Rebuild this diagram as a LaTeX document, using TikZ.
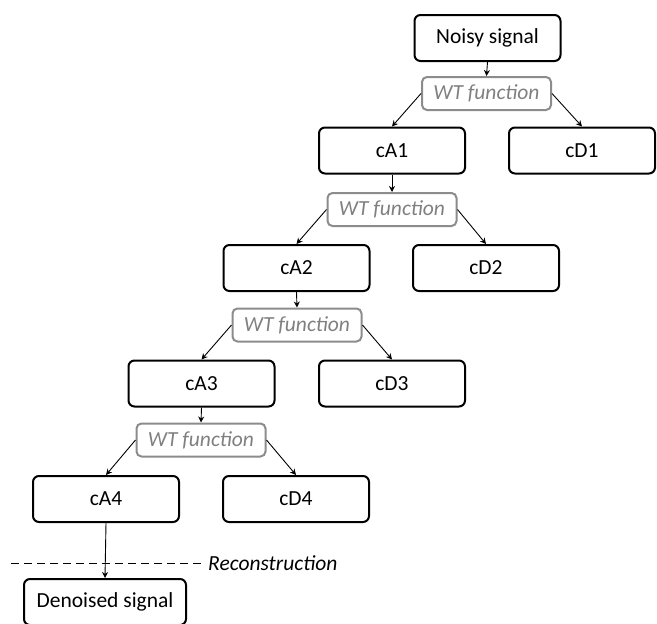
\documentclass[tikz,border=0pt]{standalone}
\usepackage{fontspec}
\setmainfont{Carlito}
\usetikzlibrary{arrows.meta}
\definecolor{wtgray}{RGB}{140,140,140}
\definecolor{wttext}{RGB}{128,128,128}
\tikzset{
  box/.style={draw=black, line width=2pt, rounded corners=6pt, minimum width=146pt, minimum height=46pt, inner sep=0pt, font=\fontsize{21.5}{24}\selectfont},
  wtbox/.style={draw=wtgray, line width=2pt, rounded corners=5pt, minimum width=129pt, minimum height=33pt, inner sep=0pt, text=wttext, font=\fontsize{21.5}{24}\selectfont\itshape},
  conn/.style={line width=0.9pt, -{Stealth[length=6pt,width=6pt]}},
}
\begin{document}
\begin{tikzpicture}[x=1pt,y=-1pt]
\useasboundingbox (0,0) rectangle (657,624);
\clip (0,0) rectangle (657,624);
\node[box] (noisy) at (487.5,38) {Noisy signal};
\node[wtbox] (wt1) at (486.5,93.5) {WT function};
\node[box] (ca1) at (392,150.5) {cA1};
\node[box] (cd1) at (582,150.5) {cD1};
\node[wtbox] (wt2) at (392,209.5) {WT function};
\node[box] (ca2) at (296.5,268) {cA2};
\node[box] (cd2) at (486,268) {cD2};
\node[wtbox] (wt3) at (297,325) {WT function};
\node[box] (ca3) at (201.5,383.5) {cA3};
\node[box] (cd3) at (392,383.5) {cD3};
\node[wtbox] (wt4) at (201,440) {WT function};
\node[box] (ca4) at (106,499) {cA4};
\node[box] (cd4) at (296,499) {cD4};
\node[box, minimum width=162pt] (den) at (105,602) {Denoised signal};
\coordinate (dl) at (11,563);
\coordinate (dr) at (202,563);
\node[anchor=west, inner sep=0pt, font=\fontsize{21.5}{24}\selectfont\itshape] (rec) at (208,563) {Reconstruction};
\draw[line width=0.9pt, dash pattern=on 8pt off 5pt] (dl) -- (dr);
\draw[conn] (noisy.south) -- (wt1.north);
\draw[conn] (wt1.west) -- (ca1.north);
\draw[conn] (wt1.east) -- (cd1.north);
\draw[conn] (ca1.south) -- (wt2.north);
\draw[conn] (wt2.west) -- (ca2.north);
\draw[conn] (wt2.east) -- (cd2.north);
\draw[conn] (ca2.south) -- (wt3.north);
\draw[conn] (wt3.west) -- (ca3.north);
\draw[conn] (wt3.east) -- (cd3.north);
\draw[conn] (ca3.south) -- (wt4.north);
\draw[conn] (wt4.west) -- (ca4.north);
\draw[conn] (wt4.east) -- (cd4.north);
\draw[conn] (ca4.south) -- (den.north);
\end{tikzpicture}
\end{document}
